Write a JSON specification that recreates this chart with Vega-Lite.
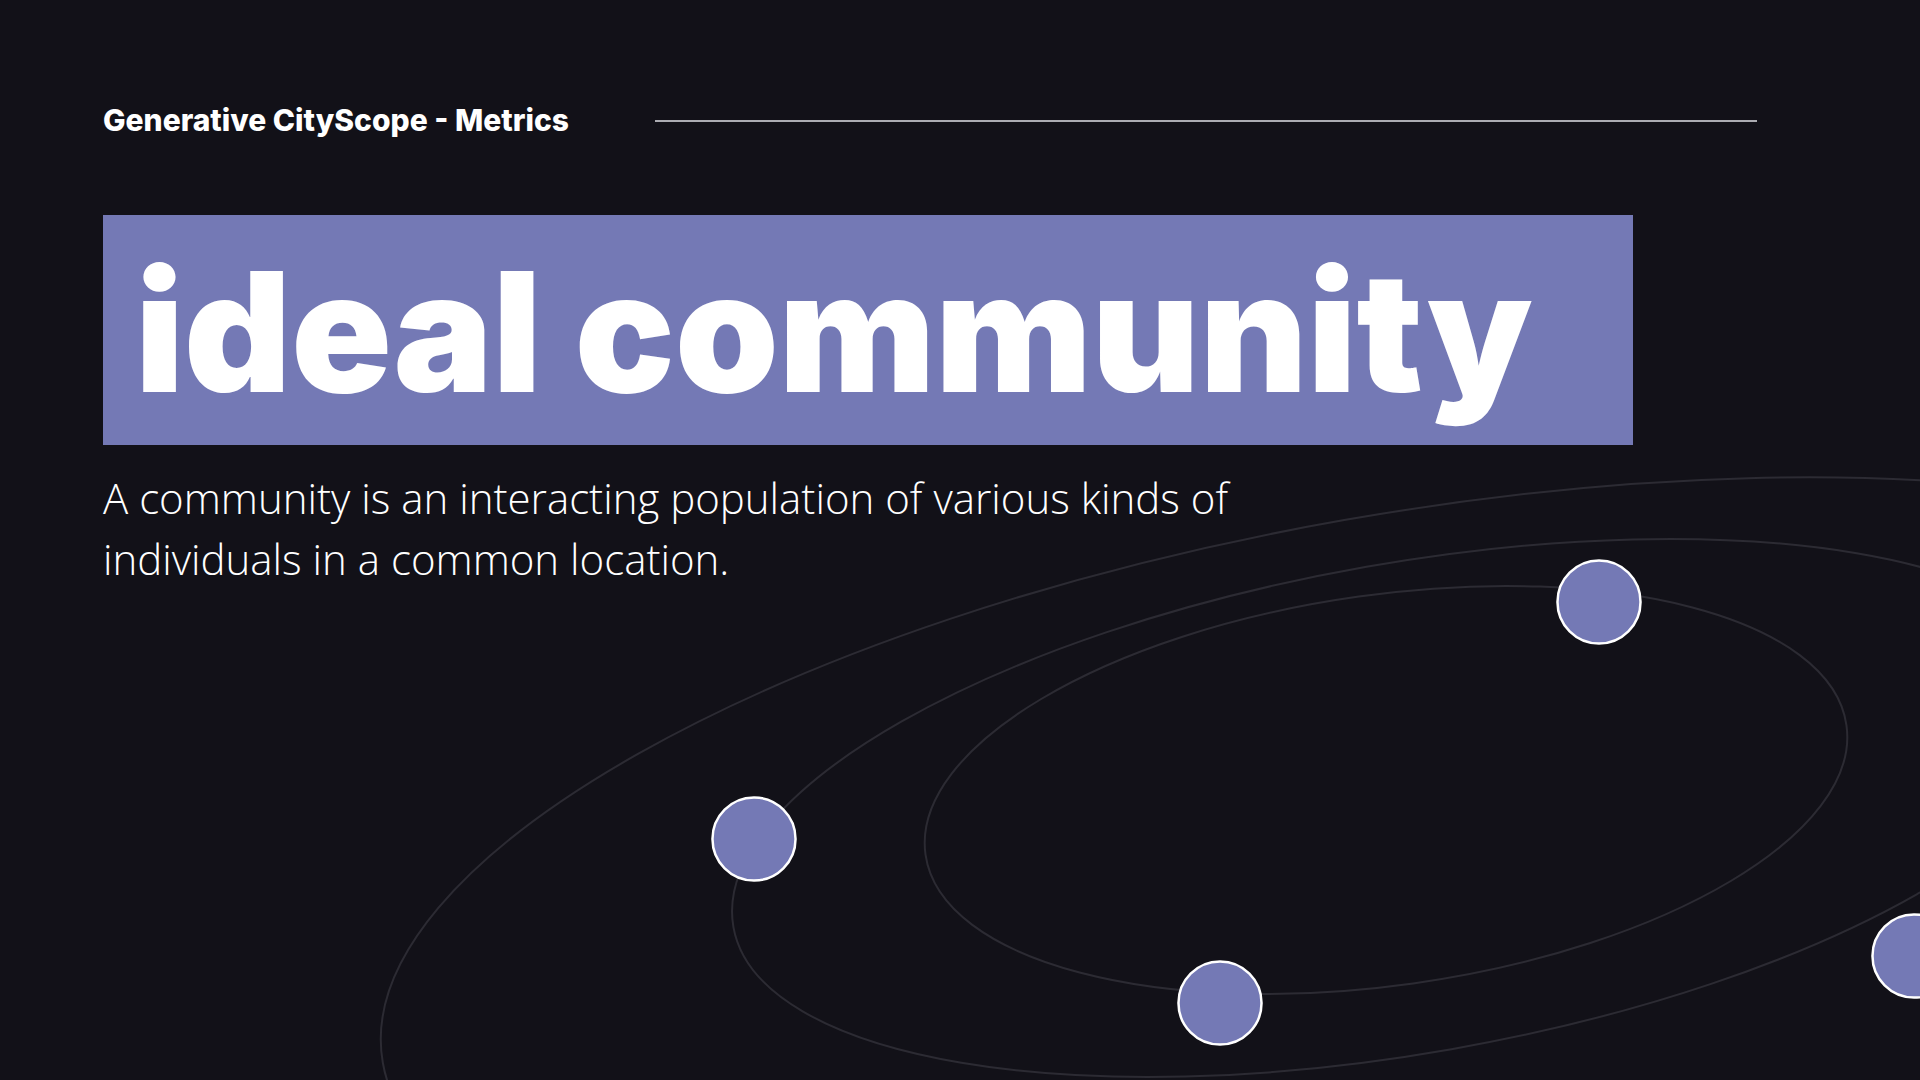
{
"$schema":"https://vega.github.io/schema/vega-lite/v6.json",
"width":1920,"height":1080,"padding":0,
"autosize":{"type":"none"},
"background":"#121118",
"config":{"view":{"stroke":null}},
"datasets":{
"orbits":[{"id":"outer","x":1408,"y":882},{"id":"middle","x":1409,"y":808},{"id":"inner","x":1386,"y":790}],
"nodes":[{"x":754,"y":839},{"x":1599,"y":602},{"x":1220,"y":1003},{"x":1914,"y":956}],
"header":[{"x":103,"y":131,"t":"Generative CityScope - Metrics"}],
"line":[{"x":655,"x2":1757,"y":121}],
"band":[{"x":103,"x2":1633,"y":215,"y2":445}],
"title":[{"x":135,"y":392,"t":"ideal community"}],
"sub":[{"x":103,"y":514,"t":"A community is an interacting population of various kinds of"},{"x":103,"y":575,"t":"individuals in a common location."}]
},
"layer":[
{"data":{"name":"orbits"},"transform":[{"filter":"datum.id=='outer'"}],
 "mark":{"type":"point","shape":"M -1 0 A 1 0.353 0 1 0 1 0 A 1 0.353 0 1 0 -1 0 Z","size":4334724,"angle":350,"filled":false,"stroke":"#2c2b33","strokeWidth":2,"opacity":1},
 "encoding":{"x":{"field":"x","type":"quantitative","scale":{"domain":[0,1920]},"axis":null},"y":{"field":"y","type":"quantitative","scale":{"domain":[1080,0]},"axis":null}}},
{"data":{"name":"orbits"},"transform":[{"filter":"datum.id=='middle'"}],
 "mark":{"type":"point","shape":"M -1 0 A 1 0.357 0 1 0 1 0 A 1 0.357 0 1 0 -1 0 Z","size":1882384,"angle":350,"filled":false,"stroke":"#2c2b33","strokeWidth":2,"opacity":1},
 "encoding":{"x":{"field":"x","type":"quantitative","scale":{"domain":[0,1920]},"axis":null},"y":{"field":"y","type":"quantitative","scale":{"domain":[1080,0]},"axis":null}}},
{"data":{"name":"orbits"},"transform":[{"filter":"datum.id=='inner'"}],
 "mark":{"type":"point","shape":"M -1 0 A 1 0.42 0 1 0 1 0 A 1 0.42 0 1 0 -1 0 Z","size":864900,"angle":352,"filled":false,"stroke":"#2c2b33","strokeWidth":2,"opacity":1},
 "encoding":{"x":{"field":"x","type":"quantitative","scale":{"domain":[0,1920]},"axis":null},"y":{"field":"y","type":"quantitative","scale":{"domain":[1080,0]},"axis":null}}},
{"data":{"name":"nodes"},
 "mark":{"type":"circle","size":6900,"fill":"#7479b5","stroke":"#ffffff","strokeWidth":2.5,"opacity":1},
 "encoding":{"x":{"field":"x","type":"quantitative","scale":{"domain":[0,1920]},"axis":null},"y":{"field":"y","type":"quantitative","scale":{"domain":[1080,0]},"axis":null}}},
{"data":{"name":"line"},"mark":{"type":"rule","stroke":"#e0e0e6","strokeWidth":1.5},
 "encoding":{"x":{"field":"x","type":"quantitative","scale":{"domain":[0,1920]},"axis":null},"x2":{"field":"x2"},"y":{"field":"y","type":"quantitative","scale":{"domain":[1080,0]},"axis":null}}},
{"data":{"name":"header"},"mark":{"type":"text","align":"left","baseline":"alphabetic","font":"Inter","fontWeight":800,"fontSize":30,"fill":"#ffffff"},
 "encoding":{"x":{"field":"x","type":"quantitative","scale":{"domain":[0,1920]},"axis":null},"y":{"field":"y","type":"quantitative","scale":{"domain":[1080,0]},"axis":null},"text":{"field":"t"}}},
{"data":{"name":"band"},"mark":{"type":"rect","fill":"#7479b5"},
 "encoding":{"x":{"field":"x","type":"quantitative","scale":{"domain":[0,1920]},"axis":null},"x2":{"field":"x2"},"y":{"field":"y","type":"quantitative","scale":{"domain":[1080,0]},"axis":null},"y2":{"field":"y2"}}},
{"data":{"name":"title"},"mark":{"type":"text","align":"left","baseline":"alphabetic","font":"Inter","fontWeight":900,"fontSize":166,"letterSpacing":-9,"fill":"#ffffff"},
 "encoding":{"x":{"field":"x","type":"quantitative","scale":{"domain":[0,1920]},"axis":null},"y":{"field":"y","type":"quantitative","scale":{"domain":[1080,0]},"axis":null},"text":{"field":"t"}}},
{"data":{"name":"sub"},"mark":{"type":"text","align":"left","baseline":"alphabetic","font":"Open Sans","fontWeight":300,"fontSize":42,"fill":"#ffffff","letterSpacing":2.2},
 "encoding":{"x":{"field":"x","type":"quantitative","scale":{"domain":[0,1920]},"axis":null},"y":{"field":"y","type":"quantitative","scale":{"domain":[1080,0]},"axis":null},"text":{"field":"t"}}}
]
}
